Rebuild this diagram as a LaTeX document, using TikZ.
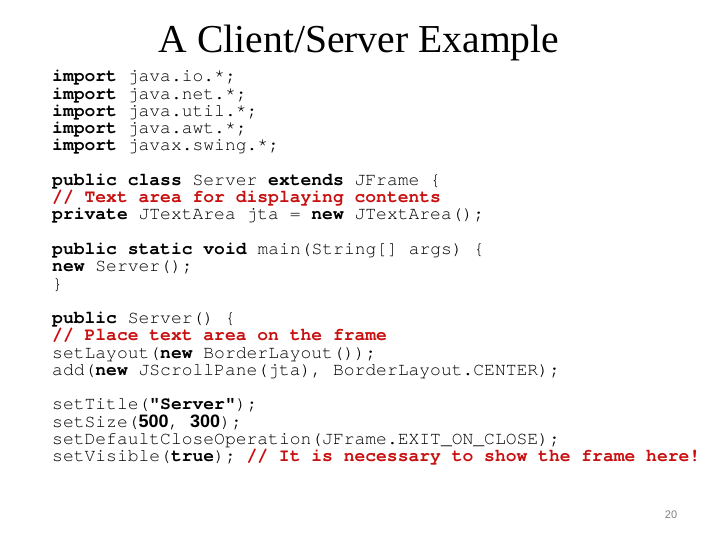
\documentclass[tikz,border=0pt]{standalone}
\usepackage{fontspec}
\setmainfont{Liberation Serif}
\setmonofont{TeX Gyre Cursor}
\newfontfamily\numfont{Liberation Sans}
\definecolor{cmtred}{RGB}{200,16,16}
\newcommand{\kw}[1]{\textbf{#1}}
\newcommand{\cmt}[1]{\textcolor{cmtred}{\textbf{#1}}}
\tikzset{
  code/.style={anchor=base west, inner sep=0pt, font=\ttfamily\fontsize{18}{18}\selectfont},
  slidetitle/.style={anchor=base, inner sep=0pt, font=\fontsize{39.6}{39.6}\selectfont},
  pagenum/.style={inner sep=0pt, text=gray, font=\numfont\fontsize{11}{11}\selectfont}
}

\begin{document}
\begin{tikzpicture}[x=1pt, y=-1pt]
    \useasboundingbox (0,0) rectangle (720,540);
    \node[slidetitle] (title) at (359,53) {A Client/Server Example};
    % imports
    \node[code] (imp1) at (52,82) {\kw{import} java.io.*;};
    \node[code] (imp2) at (52,99.25) {\kw{import} java.net.*;};
    \node[code] (imp3) at (52,116.5) {\kw{import} java.util.*;};
    \node[code] (imp4) at (52,133.75) {\kw{import} java.awt.*;};
    \node[code] (imp5) at (52,151) {\kw{import} javax.swing.*;};
    % class header
    \node[code] (cls) at (52,185.5) {\kw{public class} Server \kw{extends} JFrame \{};
    \node[code] (cmtarea) at (52,202.75) {\cmt{// Text area for displaying contents}};
    \node[code] (jta) at (52,220) {\kw{private} JTextArea jta = \kw{new} JTextArea();};
    % main
    \node[code] (main) at (52,254.5) {\kw{public static void} main(String[] args) \{};
    \node[code] (newsrv) at (52,271.75) {\kw{new} Server();};
    \node[code] (mainend) at (52,289) {\}};
    % constructor
    \node[code] (ctor) at (52,323.5) {\kw{public} Server() \{};
    \node[code] (cmtplace) at (52,340.75) {\cmt{// Place text area on the frame}};
    \node[code] (layout) at (52,358) {setLayout(\kw{new} BorderLayout());};
    \node[code] (add) at (52,375.25) {add(\kw{new} JScrollPane(jta), BorderLayout.CENTER);};
    % frame settings
    \node[code] (title2) at (52,409.75) {setTitle(\kw{"Server"});};
    \node[code] (size) at (52,427) {setSize({\numfont\bfseries 500}, {\numfont\bfseries 300});};
    \node[code] (close) at (52,444.25) {setDefaultCloseOperation(JFrame.EXIT\_ON\_CLOSE);};
    \node[code] (visible) at (52,461.5) {setVisible(\kw{true}); \cmt{// It is necessary to show the frame here!}};
    \node[pagenum] (page) at (671,515) {20};
\end{tikzpicture}
\end{document}
